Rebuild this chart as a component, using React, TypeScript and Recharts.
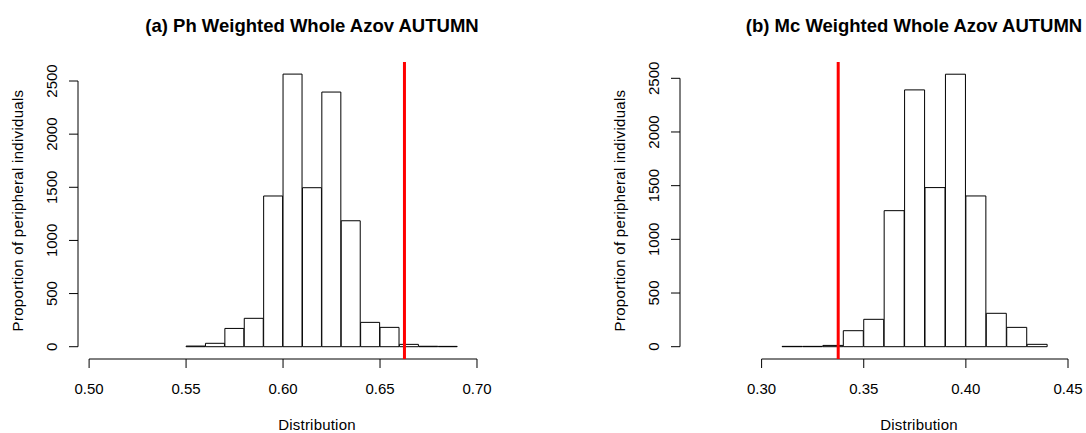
import { ComposedChart, Bar, XAxis, YAxis, ReferenceLine } from "recharts";

// (a) Ph — histogram bins (mid points) and counts
const phBinMids = [0.555, 0.565, 0.575, 0.585, 0.595, 0.605, 0.615, 0.625, 0.635, 0.645, 0.655, 0.665, 0.675, 0.685];
const phCounts = [6, 32, 172, 267, 1418, 2565, 1496, 2396, 1185, 229, 182, 22, 4, 3];
const phTicks = [0.5, 0.55, 0.6, 0.65, 0.7];
const phObserved = 0.6626;

// (b) Mc
const mcBinMids = [0.315, 0.325, 0.335, 0.345, 0.355, 0.365, 0.375, 0.385, 0.395, 0.405, 0.415, 0.425, 0.435];
const mcCounts = [3, 3, 12, 149, 255, 1267, 2392, 1482, 2538, 1404, 311, 180, 22];
const mcTicks = [0.3, 0.35, 0.4, 0.45];
const mcObserved = 0.3375;

const countTicks = [0, 500, 1000, 1500, 2000, 2500];

const FONT = '"Liberation Sans", Arial, sans-serif';
const PANEL_W = 602;
const H = 433;

function CountTick({ x, y, payload }: any) {
  return (
    <text
      x={x}
      y={y}
      dy="0.355em"
      textAnchor="middle"
      transform={`rotate(-90, ${x}, ${y})`}
      fontSize={15}
      fontFamily={FONT}
      fill="#000"
    >
      {payload.value}
    </text>
  );
}

type PanelProps = {
  title: string;
  mids: number[];
  counts: number[];
  ticks: number[];
  observed: number;
  xDomain: [number, number];
  yDomain: [number, number];
};

function Panel({ title, mids, counts, ticks, observed, xDomain, yDomain }: PanelProps) {
  const data = mids.map((m, i) => ({ mid: m, count: counts[i] }));
  const yTop = countTicks[countTicks.length - 1];
  return (
    <div style={{ position: "relative", width: PANEL_W, height: H, flex: "none" }}>
      <div
        style={{
          position: "absolute",
          left: 0,
          top: 17,
          width: 624,
          textAlign: "center",
          fontFamily: FONT,
          fontWeight: "bold",
          fontSize: 18.5,
          lineHeight: "18.5px",
          whiteSpace: "nowrap",
          color: "#000",
        }}
      >
        {title}
      </div>
      <ComposedChart
        width={PANEL_W}
        height={H}
        data={data}
        margin={{ top: 62, right: 50, bottom: 0, left: 0 }}
        barCategoryGap={0}
        barGap={0}
      >
        <XAxis
          dataKey="mid"
          type="number"
          domain={xDomain}
          ticks={ticks}
          interval={0}
          allowDataOverflow
          tickFormatter={(v: number) => v.toFixed(2)}
          axisLine={false}
          tickLine={{ stroke: "#000" }}
          tickSize={9}
          tickMargin={15}
          height={74}
          tick={{ fill: "#000", fontSize: 15, fontFamily: FONT }}
          label={{
            value: "Distribution",
            position: "insideBottom",
            offset: 2.6,
            dx: 2,
            fill: "#000",
            fontSize: 15,
            fontFamily: FONT,
            style: { letterSpacing: "0.2px" },
          }}
        />
        <YAxis
          type="number"
          domain={yDomain}
          ticks={countTicks}
          interval={0}
          allowDataOverflow
          width={78}
          axisLine={false}
          tickLine={{ stroke: "#000" }}
          tickSize={9}
          tickMargin={17}
          tick={<CountTick />}
          label={{
            value: "Proportion of peripheral individuals",
            angle: -90,
            position: "insideLeft",
            offset: 18,
            style: { textAnchor: "middle", letterSpacing: "0.3px" },
            fill: "#000",
            fontSize: 15,
            fontFamily: FONT,
          }}
        />
        <ReferenceLine
          segment={[
            { x: ticks[0], y: yDomain[0] },
            { x: ticks[ticks.length - 1], y: yDomain[0] },
          ]}
          stroke="#000"
          strokeWidth={1}
          ifOverflow="visible"
        />
        <ReferenceLine
          segment={[
            { x: xDomain[0], y: 0 },
            { x: xDomain[0], y: yTop },
          ]}
          stroke="#000"
          strokeWidth={1}
          ifOverflow="visible"
        />
        <Bar dataKey="count" fill="#fff" stroke="#000" strokeWidth={1} isAnimationActive={false} />
        <ReferenceLine x={observed} stroke="#ff0000" strokeWidth={3} />
      </ComposedChart>
    </div>
  );
}

export default function App() {
  return (
    <div
      style={{
        position: "absolute",
        left: 0,
        top: 0,
        width: 1086,
        height: H,
        overflow: "hidden",
        background: "#fff",
        display: "flex",
      }}
    >
      <Panel
        title="(a) Ph Weighted Whole Azov AUTUMN"
        mids={phBinMids}
        counts={phCounts}
        ticks={phTicks}
        observed={phObserved}
        xDomain={[0.49428, 0.73867]}
        yDomain={[-115.7, 2678.8]}
      />
      <Panel
        title="(b) Mc Weighted Whole Azov AUTUMN"
        mids={mcBinMids}
        counts={mcCounts}
        ticks={mcTicks}
        observed={mcObserved}
        xDomain={[0.26005, 0.4921]}
        yDomain={[-114.6, 2651.8]}
      />
    </div>
  );
}
